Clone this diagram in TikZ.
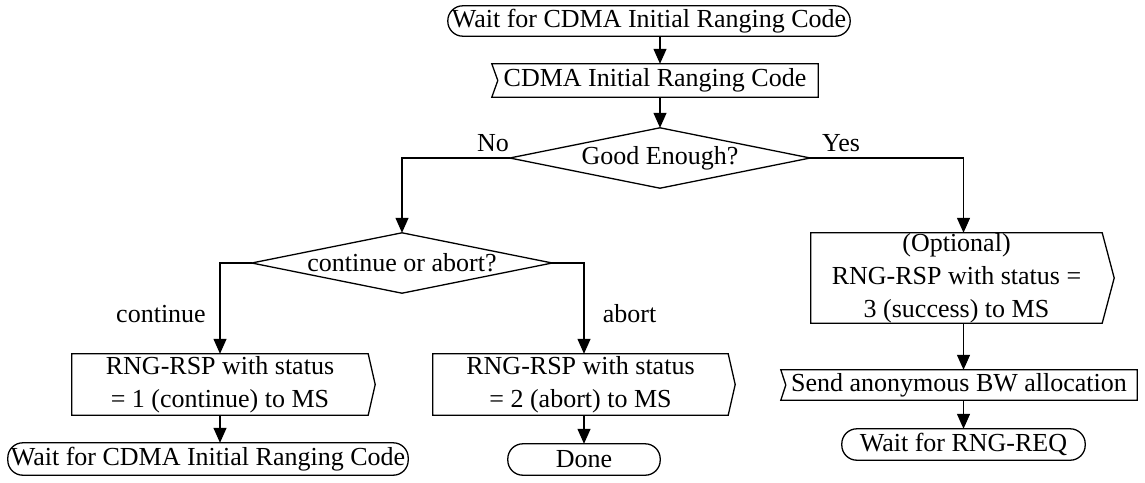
\documentclass[tikz,border=0pt]{standalone}
\usepackage{fontspec}
\setmainfont{Liberation Serif}
\usetikzlibrary{arrows.meta,calc}
\begin{document}
\begin{tikzpicture}[x=1pt,y=-1pt,
  every node/.style={font=\fontsize{26}{33}\selectfont, inner sep=0pt},
  box/.style={rectangle, draw=none, align=center},
  ol/.style={line width=1.3pt, line join=miter},
  arr/.style={line width=1.3pt, -{Triangle[width=13pt,length=15pt]}},
  lab/.style={anchor=base}
]
\useasboundingbox (0,0) rectangle (1145,482);
\fill[white] (0,0) rectangle (1145,482);

% nodes
\node[box, minimum width=402pt, minimum height=30pt] (w1) at (649,21) {Wait for CDMA Initial Ranging Code};
\node[box, minimum width=326pt, minimum height=33pt] (s1) at (655,80.5) {CDMA Initial Ranging Code};
\node[box, minimum width=300pt, minimum height=60pt] (d1) at (660,158) {Good Enough?};
\node[box, minimum width=300pt, minimum height=60pt] (d2) at (402,263) {continue or abort?};
\node[box, minimum width=296pt, minimum height=61pt] (c1) at (220,384.5) {RNG-RSP with status\\= 1 (continue) to MS};
\node[box, minimum width=295pt, minimum height=61pt] (a1) at (580.5,384.5) {RNG-RSP with status\\= 2 (abort) to MS};
\node[box, minimum width=400pt, minimum height=32pt] (w2) at (208,459) {Wait for CDMA Initial Ranging Code};
\node[box, minimum width=152pt, minimum height=31pt] (dn) at (584,459.5) {Done};
\node[box, minimum width=291pt, minimum height=90pt] (op) at (956.5,278) {(Optional)\\RNG-RSP with status =\\3 (success) to MS};
\node[box, minimum width=356pt, minimum height=30pt] (sb) at (959,385) {Send anonymous BW allocation};
\node[box, minimum width=243pt, minimum height=31pt] (w3) at (963.5,444.5) {Wait for RNG-REQ};

% outlines
\draw[ol, rounded corners=15pt] (w1.north west) rectangle (w1.south east);
\draw[ol] (s1.north west) -- (s1.north east) -- (s1.south east) -- (s1.south west) -- ([xshift=6pt]s1.west) -- cycle;
\draw[ol] (d1.north) -- (d1.east) -- (d1.south) -- (d1.west) -- cycle;
\draw[ol] (d2.north) -- (d2.east) -- (d2.south) -- (d2.west) -- cycle;
\draw[ol] (c1.north west) -- (c1.north east) -- ([xshift=7pt]c1.east) -- (c1.south east) -- (c1.south west) -- cycle;
\draw[ol] (a1.north west) -- (a1.north east) -- ([xshift=7pt]a1.east) -- (a1.south east) -- (a1.south west) -- cycle;
\draw[ol, rounded corners=15pt] (w2.north west) rectangle (w2.south east);
\draw[ol, rounded corners=15pt] (dn.north west) rectangle (dn.south east);
\draw[ol] (op.north west) -- (op.north east) -- ([xshift=12pt]op.east) -- (op.south east) -- (op.south west) -- cycle;
\draw[ol] (sb.north west) -- (sb.north east) -- (sb.south east) -- (sb.south west) -- ([xshift=5pt]sb.west) -- cycle;
\draw[ol, rounded corners=15pt] (w3.north west) rectangle (w3.south east);

% connectors
\draw[arr] (d1.north |- w1.south) -- (d1.north |- s1.north);
\draw[arr] (d1.north |- s1.south) -- (d1.north);
\draw[arr] (d1.west) -| (d2.north);
\draw[arr] (d1.east) -| (w3.north |- op.north);
\draw[arr] (d2.west) -| (c1.north);
\draw[arr] (d2.east) -| (dn.north |- a1.north);
\draw[arr] (c1.south) -- (c1.south |- w2.north);
\draw[arr] (dn.north |- a1.south) -- (dn.north);
\draw[arr] (w3.north |- op.south) -- (w3.north |- sb.north);
\draw[arr] (w3.north |- sb.south) -- (w3.north);

% labels
\node[lab] (no) at (493,151) {No};
\node[lab] (yes) at (841,151) {Yes};
\node[lab] (lc) at (161,322) {continue};
\node[lab] (la) at (629.5,322) {abort};
\end{tikzpicture}
\end{document}
